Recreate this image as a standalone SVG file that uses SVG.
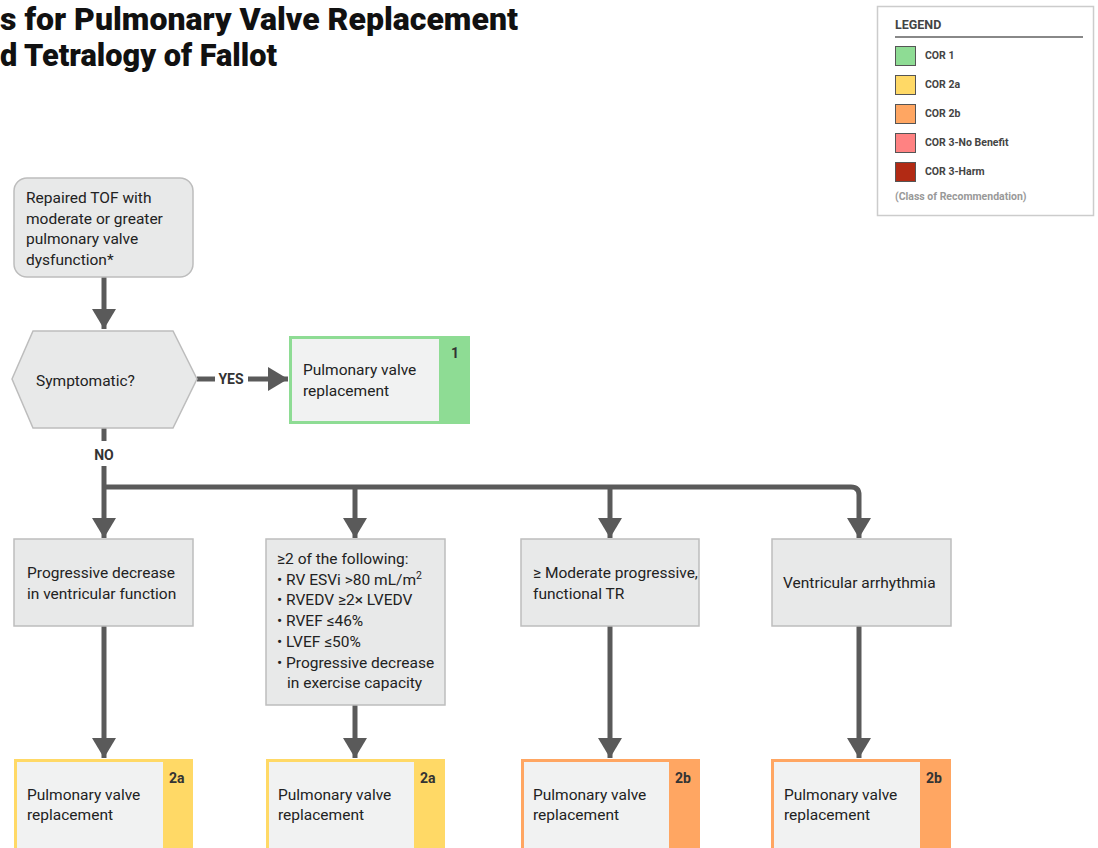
<svg xmlns="http://www.w3.org/2000/svg" width="1098" height="848" viewBox="0 0 1098 848">
<style>
.t{font-family:Roboto,"Liberation Sans",sans-serif;font-size:15.5px;fill:#222}
.b{font-family:Roboto,"Liberation Sans",sans-serif;font-weight:bold;fill:#333}
.title{font-family:Roboto,"Liberation Sans",sans-serif;font-weight:900;font-size:31.5px;fill:#111}
.node{fill:#e8e9e9;stroke:#bdbdbd;stroke-width:1.5}
.inner{fill:#f1f2f2}
.lg{font-family:Roboto,"Liberation Sans",sans-serif;font-weight:bold;font-size:10.5px;fill:#444}
.sw{stroke:#555;stroke-width:1}
.con{fill:none;stroke:#5a5a5a;stroke-width:5}
</style>
<defs>
<marker id="ah" markerUnits="userSpaceOnUse" markerWidth="24" markerHeight="24" refX="20" refY="12" orient="auto">
<path d="M0,0 L20,12 L0,24 z" fill="#5a5a5a"/>
</marker>
</defs>
<rect width="1098" height="848" fill="#fff"/>
<g id="title">
<text class="title" x="0" y="30" textLength="518" lengthAdjust="spacingAndGlyphs">s for Pulmonary Valve Replacement</text>
<text class="title" x="0" y="66" textLength="277" lengthAdjust="spacingAndGlyphs">d Tetralogy of Fallot</text>
</g>
<g id="legend">
<rect x="877.5" y="6.5" width="216" height="209" fill="#fff" stroke="#ccc" stroke-width="1.5"/>
<text class="lg" x="895" y="29" style="font-size:12.5px">LEGEND</text>
<line x1="895" y1="37" x2="1083" y2="37" stroke="#888" stroke-width="2"/>
<rect class="sw" x="895.5" y="46.5" width="20" height="19" fill="#8edc94"/>
<text class="lg" x="925" y="59">COR 1</text>
<rect class="sw" x="895.5" y="75.5" width="20" height="19" fill="#ffd966"/>
<text class="lg" x="925" y="88">COR 2a</text>
<rect class="sw" x="895.5" y="104.5" width="20" height="19" fill="#ffa662"/>
<text class="lg" x="925" y="117">COR 2b</text>
<rect class="sw" x="895.5" y="133.5" width="20" height="19" fill="#ff8282"/>
<text class="lg" x="925" y="146">COR 3-No Benefit</text>
<rect class="sw" x="895.5" y="162.5" width="20" height="19" fill="#b22a14"/>
<text class="lg" x="925" y="175">COR 3-Harm</text>
<text class="lg" x="895" y="200" style="fill:#999">(Class of Recommendation)</text>
</g>
<g id="connectors">
<line class="con" x1="104" y1="277" x2="104" y2="329" marker-end="url(#ah)"/>
<line class="con" x1="197" y1="379" x2="215" y2="379"/>
<line class="con" x1="248" y1="379" x2="288" y2="379" marker-end="url(#ah)"/>
<line class="con" x1="104" y1="428" x2="104" y2="441"/>
<path class="con" d="M104,466 V487"/>
<path class="con" d="M104,487 H851 Q859,487 859,495 V538" marker-end="url(#ah)"/>
<line class="con" x1="104" y1="487" x2="104" y2="538" marker-end="url(#ah)"/>
<line class="con" x1="355" y1="487" x2="355" y2="538" marker-end="url(#ah)"/>
<line class="con" x1="610" y1="487" x2="610" y2="538" marker-end="url(#ah)"/>
<line class="con" x1="104" y1="626" x2="104" y2="758" marker-end="url(#ah)"/>
<line class="con" x1="355" y1="705" x2="355" y2="758" marker-end="url(#ah)"/>
<line class="con" x1="610" y1="626" x2="610" y2="758" marker-end="url(#ah)"/>
<line class="con" x1="859" y1="626" x2="859" y2="758" marker-end="url(#ah)"/>
<text class="b" x="231" y="384" text-anchor="middle" font-size="14">YES</text>
<text class="b" x="104" y="460" text-anchor="middle" font-size="14">NO</text>
</g>
<g id="start">
<rect class="node" x="14" y="178" width="179" height="99" rx="13"/>
<text class="t" x="26" y="203">Repaired TOF with</text>
<text class="t" x="26" y="223.5">moderate or greater</text>
<text class="t" x="26" y="244">pulmonary valve</text>
<text class="t" x="26" y="264.5">dysfunction*</text>
</g>
<g id="symptomatic">
<polygon class="node" points="12,379 33,331 173,331 197,379 173,428 33,428"/>
<text class="t" x="36" y="386">Symptomatic?</text>
</g>
<g id="pvr1">
<rect x="289" y="336" width="181" height="88" fill="#8edc94"/>
<rect class="inner" x="292" y="339" width="147" height="82"/>
<text class="b" x="451" y="358" font-size="14">1</text>
<text class="t" x="303" y="375">Pulmonary valve</text>
<text class="t" x="303" y="396">replacement</text>
</g>
<g id="prog">
<rect class="node" x="14" y="539" width="179" height="87"/>
<text class="t" x="27" y="578">Progressive decrease</text>
<text class="t" x="27" y="598.5">in ventricular function</text>
</g>
<g id="criteria">
<rect class="node" x="266" y="539" width="179" height="166"/>
<text class="t" x="277" y="564">≥2 of the following:</text>
<text class="t" x="277" y="584.5">• RV ESVi &gt;80 mL/m<tspan dy="-6" font-size="10.5">2</tspan></text>
<text class="t" x="277" y="605">• RVEDV ≥2× LVEDV</text>
<text class="t" x="277" y="626">• RVEF ≤46%</text>
<text class="t" x="277" y="647">• LVEF ≤50%</text>
<text class="t" x="277" y="667.5">• Progressive decrease</text>
<text class="t" x="287" y="688">in exercise capacity</text>
</g>
<g id="tr">
<rect class="node" x="521" y="539" width="178" height="87"/>
<text class="t" x="533" y="578">≥ Moderate progressive,</text>
<text class="t" x="533" y="598.5">functional TR</text>
</g>
<g id="arrhythmia">
<rect class="node" x="772" y="539" width="179" height="87"/>
<text class="t" x="783" y="588">Ventricular arrhythmia</text>
</g>
<g id="pvr2a1">
<rect x="14" y="759" width="179" height="100" fill="#ffd966"/>
<rect class="inner" x="17" y="762" width="146" height="100"/>
<text class="b" x="169" y="783" font-size="14">2a</text>
<text class="t" x="27" y="800">Pulmonary valve</text>
<text class="t" x="27" y="820">replacement</text>
</g>
<g id="pvr2a2">
<rect x="266" y="759" width="179" height="100" fill="#ffd966"/>
<rect class="inner" x="269" y="762" width="145" height="100"/>
<text class="b" x="420" y="783" font-size="14">2a</text>
<text class="t" x="278" y="800">Pulmonary valve</text>
<text class="t" x="278" y="820">replacement</text>
</g>
<g id="pvr2b1">
<rect x="521" y="759" width="179" height="100" fill="#ffa662"/>
<rect class="inner" x="524" y="762" width="145" height="100"/>
<text class="b" x="675" y="783" font-size="14">2b</text>
<text class="t" x="533" y="800">Pulmonary valve</text>
<text class="t" x="533" y="820">replacement</text>
</g>
<g id="pvr2b2">
<rect x="771" y="759" width="180" height="100" fill="#ffa662"/>
<rect class="inner" x="774" y="762" width="146" height="100"/>
<text class="b" x="926" y="783" font-size="14">2b</text>
<text class="t" x="784" y="800">Pulmonary valve</text>
<text class="t" x="784" y="820">replacement</text>
</g>
</svg>
